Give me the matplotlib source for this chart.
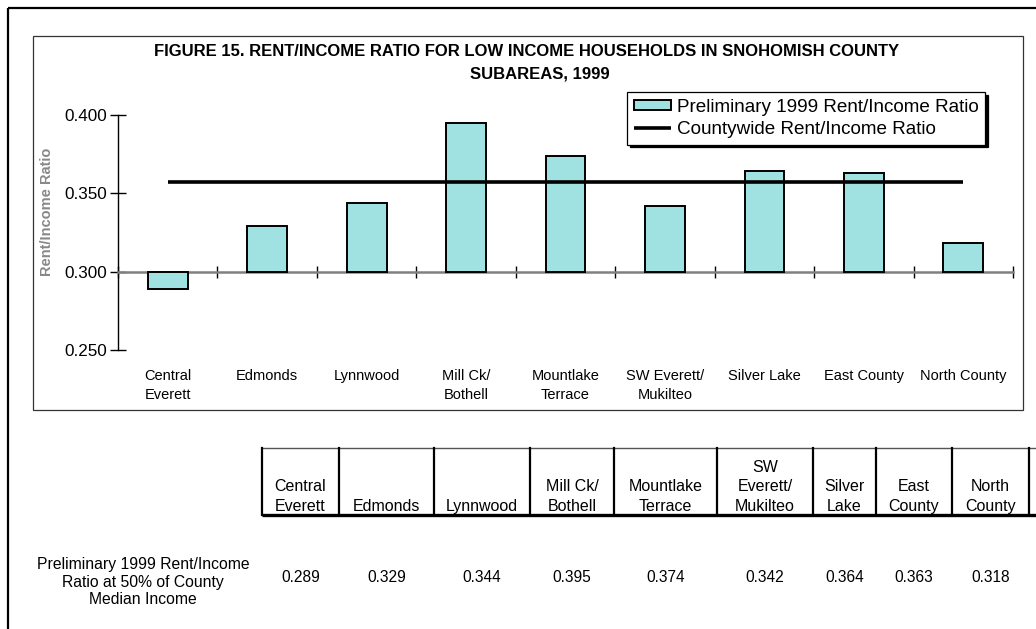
import numpy as np
import matplotlib
matplotlib.use("Agg")
import matplotlib.pyplot as plt
from matplotlib.patches import Rectangle

plt.rcParams['font.family'] = ['Liberation Sans', 'DejaVu Sans']

# ---------------- data ----------------
categories = ["Central\nEverett", "Edmonds", "Lynnwood", "Mill Ck/\nBothell",
              "Mountlake\nTerrace", "SW Everett/\nMukilteo", "Silver Lake",
              "East County", "North County"]
table_headers = ["Central\nEverett", "Edmonds", "Lynnwood", "Mill Ck/\nBothell",
                 "Mountlake\nTerrace", "SW\nEverett/\nMukilteo", "Silver\nLake",
                 "East\nCounty", "North\nCounty"]
ratios = [0.289, 0.329, 0.344, 0.395, 0.374, 0.342, 0.364, 0.363, 0.318]
countywide = 0.357
yticks = [0.250, 0.300, 0.350, 0.400]
title_lines = ["FIGURE 15. RENT/INCOME RATIO FOR LOW INCOME HOUSEHOLDS IN SNOHOMISH COUNTY",
               "SUBAREAS, 1999"]
bar_label = "Preliminary 1999 Rent/Income Ratio"
line_label = "Countywide Rent/Income Ratio"
ylabel = "Rent/Income Ratio"
row_label = "Preliminary 1999 Rent/Income\nRatio at 50% of County\nMedian Income"
baseline = 0.300

# ---------------- layout ----------------
W, H = 1036, 629
fig = plt.figure(figsize=(W / 100, H / 100), dpi=100)
fig.patch.set_facecolor('white')

# overlay in pixel coordinates
ov = fig.add_axes([0, 0, 1, 1])
ov.set_xlim(0, W)
ov.set_ylim(H, 0)
ov.axis('off')

# page border (left & top)
ov.plot([8, 8], [8, H], color='black', lw=1.6, solid_capstyle='butt')
ov.plot([8, W], [8, 8], color='black', lw=1.6, solid_capstyle='butt')
# chart area box
ov.add_patch(Rectangle((33, 36), 1023 - 33, 410 - 36, fill=False,
                       edgecolor='#333333', lw=0.9))

# titles
ov.text(527, 52, title_lines[0], ha='center', va='center', fontsize=12,
        fontweight='bold')
ov.text(540, 74, title_lines[1], ha='center', va='center', fontsize=12,
        fontweight='bold')

# y label
ov.text(47, 212, ylabel, rotation=90, ha='center', va='center', fontsize=10.5,
        fontweight='bold', color='#888888')

# ---------------- main chart ----------------
x0, x1, ytop, ybot = 118, 1013, 115, 350
ax = fig.add_axes([x0 / W, 1 - ybot / H, (x1 - x0) / W, (ybot - ytop) / H])
ax.patch.set_visible(False)
x = np.arange(len(ratios))
vals = np.array(ratios)
bars = ax.bar(x, vals - baseline, bottom=baseline, width=0.4, color='#A0E1E1',
              edgecolor='black', linewidth=1.4, zorder=3, label=bar_label)
line, = ax.plot([x[0], x[-1]], [countywide, countywide], color='black', lw=2.6,
                zorder=4, label=line_label, solid_capstyle='butt')
ax.set_xlim(-0.5, len(ratios) - 0.5)
ax.set_ylim(yticks[0], yticks[-1])
for s in ['top', 'right']:
    ax.spines[s].set_visible(False)
ax.spines['left'].set_color('black')
ax.spines['left'].set_linewidth(1.0)
ax.spines['bottom'].set_position(('data', baseline))
ax.spines['bottom'].set_color('#808080')
ax.spines['bottom'].set_linewidth(1.8)
ax.set_yticks(yticks)
ax.set_yticklabels([f"{v:.3f}" for v in yticks])
ax.tick_params(axis='y', direction='inout', length=11, width=1.0,
               labelsize=12.3, pad=2)
ax.set_xticks(np.arange(-0.5, len(ratios), 1.0))
ax.set_xticklabels([])
ax.tick_params(axis='x', direction='inout', length=9, width=1.0, color='black')

for i, lab in enumerate(categories):
    ax.annotate(lab, xy=(x[i], 0), xycoords=('data', 'axes fraction'),
                xytext=(0, -19), textcoords='offset pixels', ha='center',
                va='top', fontsize=10.5, linespacing=1.45)

leg = ax.legend([bars, line], [bar_label, line_label],
                loc='upper left', bbox_to_anchor=(627 / W, 1 - 92 / H),
                bbox_transform=fig.transFigure, borderaxespad=0,
                fontsize=13.6, frameon=True, fancybox=False, edgecolor='black',
                framealpha=1, shadow={'color': 'black', 'alpha': 1.0},
                handlelength=2.0, handleheight=0.45, handletextpad=0.3,
                borderpad=0.35, labelspacing=0.28)
leg.get_frame().set_linewidth(0.9)

# ---------------- table ----------------
col_edges = [262, 339, 434, 530, 614, 717, 813, 876, 952, 1029]
t_top, t_bot = 448, 515
ov.plot([col_edges[0], W], [t_top, t_top], color='#555555', lw=1.0)
ov.plot([col_edges[0], W], [t_bot, t_bot], color='black', lw=2.4,
        solid_capstyle='butt')
for ce in col_edges:
    ov.plot([ce, ce], [t_top, t_bot], color='black', lw=1.6)
for i, (hdr, v) in enumerate(zip(table_headers, ratios)):
    cx = (col_edges[i] + col_edges[i + 1]) / 2
    ov.text(cx, t_bot - 1, hdr, ha='center', va='bottom', fontsize=11.5,
            linespacing=1.38)
    ov.text(cx, 578, f"{v:.3f}", ha='center', va='center', fontsize=11.2)

ov.text(143, 582, row_label, ha='center', va='center', fontsize=11.3,
        linespacing=1.25)

fig.savefig('out.png', dpi=100, facecolor='white')
